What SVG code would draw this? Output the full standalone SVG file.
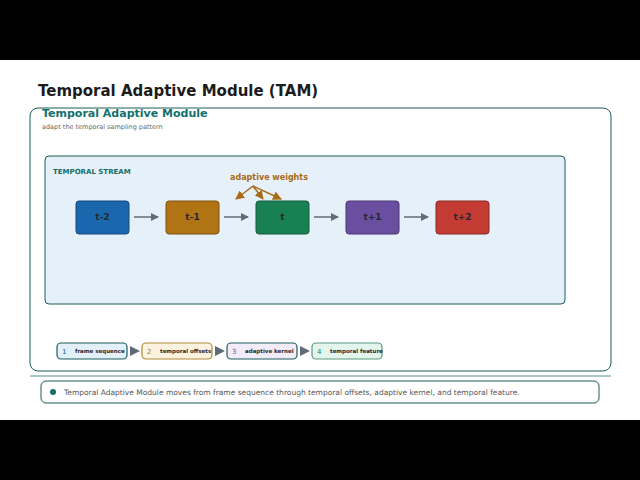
<svg xmlns="http://www.w3.org/2000/svg" width="640" height="480" viewBox="0 0 640 480">
<defs>
<marker id="ah" markerWidth="8" markerHeight="8" refX="7" refY="4" orient="auto" markerUnits="userSpaceOnUse"><path d="M0,0 L8,4 L0,8 z" fill="#5f6b75"/></marker>
<marker id="aw" markerWidth="9" markerHeight="9" refX="8" refY="4.5" orient="auto" markerUnits="userSpaceOnUse"><path d="M0,0 L9,4.5 L0,9 z" fill="#a86a14"/></marker>
</defs>
<style>
text{font-family:"DejaVu Sans",sans-serif}
.n{stroke-width:1;rx:3}
.nt{font-size:9px;font-weight:bold;fill:#1f2a33;text-anchor:middle}
.lg{stroke-width:1.2}
.lt{font-size:5.5px;font-weight:bold;fill:#1f2a33}
.ln{font-size:7px}
.c{stroke:#5f6b75;stroke-width:1.5;fill:none}
</style>
<rect width="640" height="480" fill="#000"/>
<rect x="0" y="60" width="640" height="360" fill="#fff"/>
<text x="38" y="96" font-size="15" font-weight="bold" fill="#1c1c1c">Temporal Adaptive Module (TAM)</text>
<rect x="30" y="108" width="581" height="263" rx="8" fill="#fff" stroke="#1a5c5a" stroke-width="1"/>
<text x="42" y="117" font-size="11" font-weight="bold" fill="#136f6b">Temporal Adaptive Module</text>
<text x="42" y="129" font-size="6.5" fill="#666">adapt the temporal sampling pattern</text>
<rect x="45" y="156" width="520" height="148" rx="4" fill="#e6f0f8" stroke="#1a5c5a" stroke-width="1"/>
<text x="53" y="174" font-size="7" font-weight="bold" fill="#136f6b">TEMPORAL STREAM</text>
<g id="connectors">
<line class="c" x1="134" y1="217" x2="158" y2="217" marker-end="url(#ah)"/>
<line class="c" x1="224" y1="217" x2="248" y2="217" marker-end="url(#ah)"/>
<line class="c" x1="314" y1="217" x2="338" y2="217" marker-end="url(#ah)"/>
<line class="c" x1="404" y1="217" x2="428" y2="217" marker-end="url(#ah)"/>
<g stroke="#a86a14" stroke-width="1.5" fill="none">
<line x1="253" y1="186" x2="236" y2="199" marker-end="url(#aw)"/>
<line x1="253" y1="186" x2="263" y2="199" marker-end="url(#aw)"/>
<line x1="253" y1="186" x2="281" y2="199" marker-end="url(#aw)"/>
</g>
<text x="269" y="180" font-size="8" font-weight="bold" fill="#a86a14" text-anchor="middle">adaptive weights</text>
</g>
<g id="n1"><rect class="n" x="76" y="201" width="53" height="33" fill="#1a67ad" stroke="#12497a"/><text class="nt" x="102.5" y="220">t-2</text></g>
<g id="n2"><rect class="n" x="166" y="201" width="53" height="33" fill="#b07414" stroke="#7c520e"/><text class="nt" x="192.5" y="220">t-1</text></g>
<g id="n3"><rect class="n" x="256" y="201" width="53" height="33" fill="#198053" stroke="#115a3a"/><text class="nt" x="282.5" y="220">t</text></g>
<g id="n4"><rect class="n" x="346" y="201" width="53" height="33" fill="#6a4ea0" stroke="#4a3770"/><text class="nt" x="372.5" y="220">t+1</text></g>
<g id="n5"><rect class="n" x="436" y="201" width="53" height="33" fill="#c33b32" stroke="#892923"/><text class="nt" x="462.5" y="220">t+2</text></g>
<g id="legend">
<rect class="lg" x="57" y="343" width="70" height="16" rx="4" fill="#e3eff9" stroke="#1a5c5a"/>
<text class="ln" x="62" y="354" fill="#1a67ad">1</text><text class="lt" x="75" y="353">frame sequence</text>
<path d="M130,346 L140,351 L130,356 z" fill="#5f6b75"/>
<rect class="lg" x="142" y="343" width="70" height="16" rx="4" fill="#fbf3df" stroke="#b08a3a"/>
<text class="ln" x="147" y="354" fill="#b07414">2</text><text class="lt" x="160" y="353">temporal offsets</text>
<path d="M215,346 L225,351 L215,356 z" fill="#5f6b75"/>
<rect class="lg" x="227" y="343" width="70" height="16" rx="4" fill="#f1ecf8" stroke="#1a5c5a"/>
<text class="ln" x="232" y="354" fill="#6a4ea0">3</text><text class="lt" x="245" y="353">adaptive kernel</text>
<path d="M300,346 L310,351 L300,356 z" fill="#5f6b75"/>
<rect class="lg" x="312" y="343" width="70" height="16" rx="4" fill="#e3f5ec" stroke="#5a9a7c"/>
<text class="ln" x="317" y="354" fill="#198053">4</text><text class="lt" x="330" y="353">temporal feature</text>
</g>
<line x1="30" y1="376" x2="611" y2="376" stroke="#8fb6b4" stroke-width="1.5"/>
<g id="summary">
<rect x="41" y="381" width="558" height="22" rx="5" fill="#fff" stroke="#1a5c5a" stroke-width="1"/>
<circle cx="53" cy="392" r="3" fill="#136f6b"/>
<text x="64" y="395" font-size="7.5" fill="#555">Temporal Adaptive Module moves from frame sequence through temporal offsets, adaptive kernel, and temporal feature.</text>
</g>
</svg>
